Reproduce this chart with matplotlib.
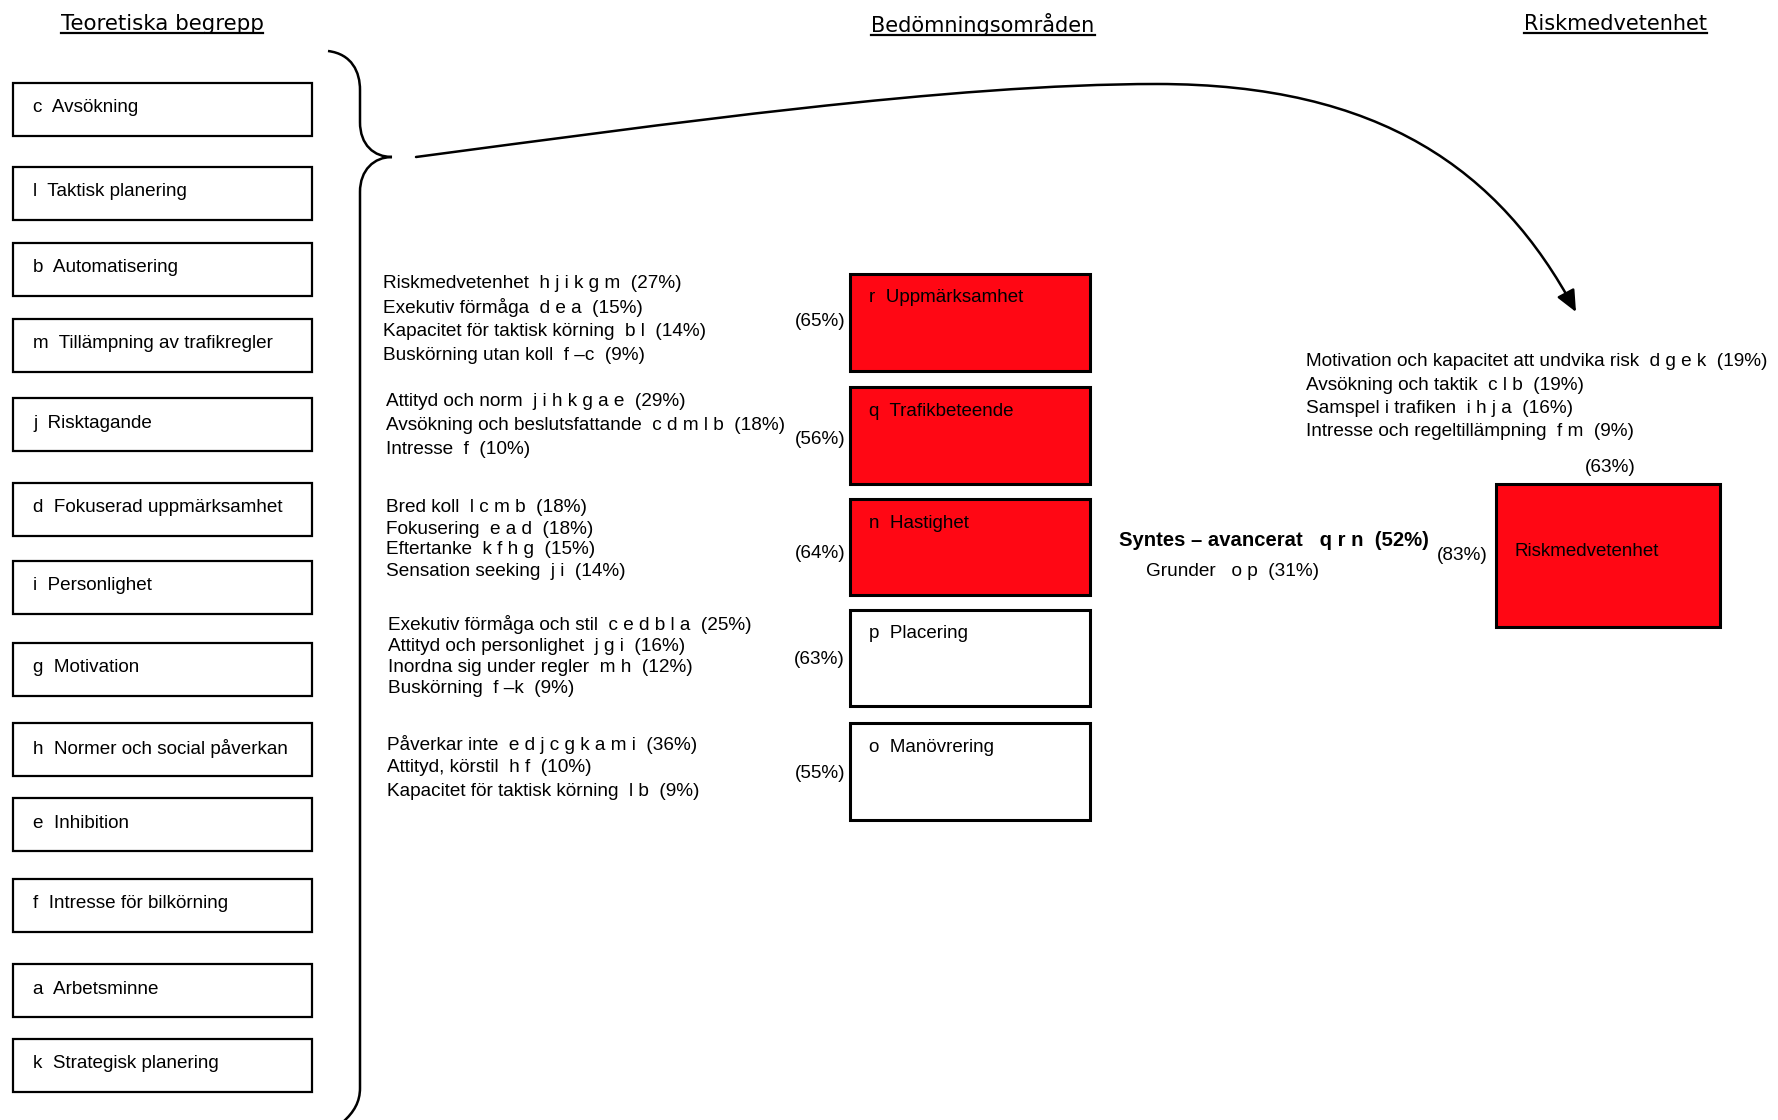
import matplotlib
matplotlib.use("Agg")
import matplotlib.pyplot as plt
from matplotlib.patches import Rectangle, PathPatch, FancyArrowPatch
from matplotlib.path import Path

# --- data ---
titles = ["Teoretiska begrepp", "Bedömningsområden", "Riskmedvetenhet"]

concept_letters = ["c", "l", "b", "m", "j", "d", "i", "g", "h", "e", "f", "a", "k"]
concept_names = ["Avsökning", "Taktisk planering", "Automatisering",
                 "Tillämpning av trafikregler", "Risktagande",
                 "Fokuserad uppmärksamhet", "Personlighet", "Motivation",
                 "Normer och social påverkan", "Inhibition",
                 "Intresse för bilkörning", "Arbetsminne", "Strategisk planering"]

area_letters = ["r", "q", "n", "p", "o"]
area_names = ["Uppmärksamhet", "Trafikbeteende", "Hastighet", "Placering", "Manövrering"]
area_pct = ["(65%)", "(56%)", "(64%)", "(63%)", "(55%)"]
area_red = [True, True, True, False, False]
area_factors = [
    ["Riskmedvetenhet  h j i k g m  (27%)", "Exekutiv förmåga  d e a  (15%)",
     "Kapacitet för taktisk körning  b l  (14%)", "Buskörning utan koll  f –c  (9%)"],
    ["Attityd och norm  j i h k g a e  (29%)", "Avsökning och beslutsfattande  c d m l b  (18%)",
     "Intresse  f  (10%)"],
    ["Bred koll  l c m b  (18%)", "Fokusering  e a d  (18%)",
     "Eftertanke  k f h g  (15%)", "Sensation seeking  j i  (14%)"],
    ["Exekutiv förmåga och stil  c e d b l a  (25%)", "Attityd och personlighet  j g i  (16%)",
     "Inordna sig under regler  m h  (12%)", "Buskörning  f –k  (9%)"],
    ["Påverkar inte  e d j c g k a m i  (36%)", "Attityd, körstil  h f  (10%)",
     "Kapacitet för taktisk körning  l b  (9%)"],
]

risk_factors = ["Motivation och kapacitet att undvika risk  d g e k  (19%)",
                "Avsökning och taktik  c l b  (19%)",
                "Samspel i trafiken  i h j a  (16%)",
                "Intresse och regeltillämpning  f m  (9%)"]
risk_top_pct = "(63%)"
risk_side_pct = "(83%)"
synth_bold = "Syntes – avancerat   q r n  (52%)"
synth_plain = "Grunder   o p  (31%)"
risk_box_label = "Riskmedvetenhet"

RED = "#ff0714"
F_TITLE = "DejaVu Sans"
F_TXT = ["Liberation Sans", "DejaVu Sans"]
FS_MID = 13.7

fig = plt.figure(figsize=(17.78, 11.2), dpi=100)
ax = fig.add_axes([0, 0, 1, 1])
ax.set_xlim(0, 1778)
ax.set_ylim(1120, 0)
ax.axis("off")

# titles (underlined)
title_x = [162, 983, 1615]
title_size = [15.4, 15.0, 15.0]
title_objs = []
for t, x, s in zip(titles, title_x, title_size):
    title_objs.append(ax.text(x, 24, t, ha="center", va="center",
                              fontsize=s, family=F_TITLE))

# left column of concept boxes
box_tops = [83, 167, 243, 319, 398, 483, 561, 643, 723, 798, 879, 964, 1039]
for top, let, name in zip(box_tops, concept_letters, concept_names):
    ax.add_patch(Rectangle((13, top), 299, 53, fill=False, lw=1.6, ec="black"))
    ax.text(33, top + 25, f"{let}  {name}", ha="left", va="center",
            fontsize=13.6, family=F_TXT)

# brace
bv = [(328, 51), (352, 54), (360, 72), (360, 90),
      (360, 122),
      (360, 145), (374, 157), (392, 157),
      (374, 157), (360, 170), (360, 192),
      (360, 1088),
      (360, 1102), (354, 1112), (343, 1122)]
bc = [Path.MOVETO, Path.CURVE4, Path.CURVE4, Path.CURVE4,
      Path.LINETO,
      Path.CURVE4, Path.CURVE4, Path.CURVE4,
      Path.CURVE4, Path.CURVE4, Path.CURVE4,
      Path.LINETO,
      Path.CURVE4, Path.CURVE4, Path.CURVE4]
ax.add_patch(PathPatch(Path(bv, bc), fill=False, lw=1.8, ec="black"))

# big curved arrow
av = [(416, 157), (666, 124), (950, 84), (1157, 84),
      (1380, 84), (1500, 170), (1576, 312)]
ac = [Path.MOVETO, Path.CURVE4, Path.CURVE4, Path.CURVE4,
      Path.CURVE4, Path.CURVE4, Path.CURVE4]
ax.add_patch(FancyArrowPatch(path=Path(av, ac), arrowstyle="-|>,head_length=1.0,head_width=0.45",
                             mutation_scale=13, lw=1.8, color="black"))

# middle assessment areas
area_tops = [274, 387, 499, 610, 723]
area_h = [97, 97, 96, 96, 97]
text_tops = [283, 402, 508, 625, 744]
text_x = [383, 386, 386, 388, 387]
line_gap = [24.3, 23.5, 21, 21.3, 23.5]
pct_y = [322, 439, 554, 659, 774]
for i in range(len(area_letters)):
    ax.add_patch(Rectangle((850, area_tops[i]), 240, area_h[i],
                           fc=RED if area_red[i] else "white", ec="black", lw=2.2))
    ax.text(869, area_tops[i] + 24, f"{area_letters[i]}  {area_names[i]}",
            ha="left", va="center", fontsize=13.5, family=F_TXT)
    ax.text(845, pct_y[i], area_pct[i], ha="right", va="center",
            fontsize=FS_MID, family=F_TXT)
    for j, line in enumerate(area_factors[i]):
        ax.text(text_x[i], text_tops[i] + j * line_gap[i], line, ha="left",
                va="center", fontsize=FS_MID, family=F_TXT)

# right: risk awareness
for j, line in enumerate(risk_factors):
    ax.text(1306, 362 + j * 23.3, line, ha="left", va="center",
            fontsize=FS_MID, family=F_TXT)
ax.text(1610, 467, risk_top_pct, ha="center", va="center", fontsize=FS_MID, family=F_TXT)
ax.add_patch(Rectangle((1496, 484), 224, 143, fc=RED, ec="black", lw=2.2))
ax.text(1515, 552, risk_box_label, ha="left", va="center", fontsize=13.5, family=F_TXT)
ax.text(1488, 555, risk_side_pct, ha="right", va="center", fontsize=FS_MID, family=F_TXT)
ax.text(1119, 540, synth_bold, ha="left", va="center", fontsize=14.6,
        fontweight="bold", family=F_TXT)
ax.text(1146, 572, synth_plain, ha="left", va="center", fontsize=FS_MID, family=F_TXT)

# underline titles
fig.canvas.draw()
r = fig.canvas.get_renderer()
inv = ax.transData.inverted()
for t in title_objs:
    bb = t.get_window_extent(renderer=r)
    (x0, y0), (x1, _) = inv.transform([(bb.x0, bb.y0), (bb.x1, bb.y0)])
    ax.plot([x0, x1], [y0 - 1, y0 - 1], color="black", lw=1.6)

fig.savefig("out.png", dpi=100)
